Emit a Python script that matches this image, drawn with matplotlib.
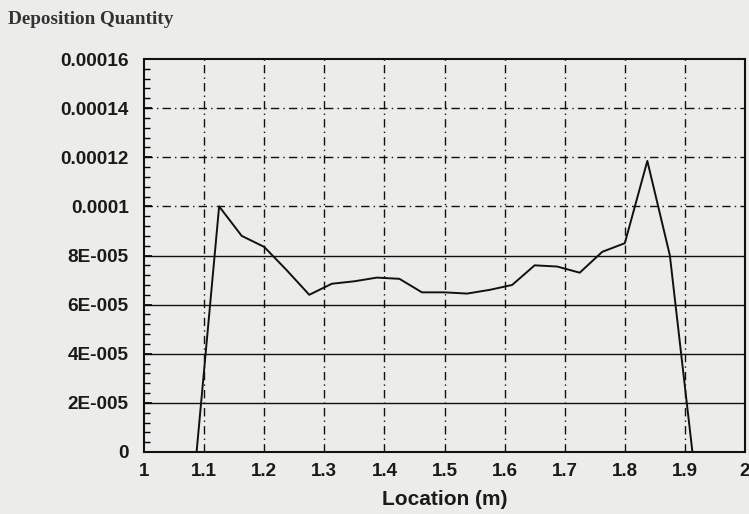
import matplotlib.pyplot as plt
from matplotlib.ticker import MultipleLocator

# Deposition profile along the duct
location = [1.0875, 1.125, 1.1625, 1.2, 1.2375, 1.275, 1.3125, 1.35, 1.3875,
            1.425, 1.4625, 1.5, 1.5375, 1.575, 1.6125, 1.65, 1.6875, 1.725,
            1.7625, 1.8, 1.8375, 1.875, 1.9125]
deposition = [0.0, 1.0e-4, 8.8e-5, 8.35e-5, 7.4e-5, 6.4e-5, 6.85e-5, 6.95e-5,
              7.1e-5, 7.05e-5, 6.5e-5, 6.5e-5, 6.45e-5, 6.6e-5, 6.8e-5, 7.6e-5,
              7.55e-5, 7.3e-5, 8.15e-5, 8.5e-5, 1.185e-4, 8.0e-5, 0.0]

x_ticks = [1, 1.1, 1.2, 1.3, 1.4, 1.5, 1.6, 1.7, 1.8, 1.9, 2]
x_labels = ['1', '1.1', '1.2', '1.3', '1.4', '1.5', '1.6', '1.7', '1.8', '1.9', '2']
y_ticks = [0, 2e-5, 4e-5, 6e-5, 8e-5, 1e-4, 1.2e-4, 1.4e-4, 1.6e-4]
y_labels = ['0', '2E-005', '4E-005', '6E-005', '8E-005', '0.0001',
            '0.00012', '0.00014', '0.00016']

bg = '#ececea'
fig = plt.figure(figsize=(7.49, 5.14), dpi=100, facecolor=bg)
ax = fig.add_axes([144 / 749, 62 / 514, 601 / 749, 393 / 514], facecolor=bg)

# grid: solid lines in the lower half, dash-dot above
for y in y_ticks[1:-1]:
    ls = '-' if y < 9e-5 else (0, (6, 3, 1, 3))
    ax.axhline(y, color='#111111', lw=1.0, ls=ls, zorder=1)
for x in x_ticks[1:-1]:
    ax.axvline(x, color='#111111', lw=1.0, ls=(0, (6, 3, 1, 3)), zorder=1)

ax.plot(location, deposition, color='#111111', lw=1.4, zorder=3)

ax.set_xlim(1, 2)
ax.set_ylim(0, 1.6e-4)
ax.set_xticks(x_ticks)
ax.set_xticklabels(x_labels)
ax.set_yticks(y_ticks)
ax.set_yticklabels(y_labels)
ax.yaxis.set_minor_locator(MultipleLocator(4e-6))
ax.tick_params(axis='y', which='major', direction='in', length=6, width=1.2,
               labelsize=13.7, pad=11)
ax.tick_params(axis='y', which='minor', direction='in', length=4, width=1)
ax.tick_params(axis='x', length=0, labelsize=13.5, pad=8)
for lab in ax.get_xticklabels() + ax.get_yticklabels():
    lab.set_fontfamily('Liberation Sans')
    lab.set_fontweight('bold')
    lab.set_color('#1a1a1a')

for sp in ax.spines.values():
    sp.set_linewidth(1.5)
    sp.set_color('#111111')

ax.set_xlabel('Location (m)', fontfamily='Liberation Sans', fontweight='bold',
              fontsize=15, color='#1a1a1a', labelpad=7)
fig.text(8 / 749, 1 - 20 / 514, 'Deposition Quantity', fontfamily='Liberation Serif',
         fontweight='bold', fontsize=13.8, color='#333333', va='center')

fig.savefig('out.png', dpi=100, facecolor=bg)
